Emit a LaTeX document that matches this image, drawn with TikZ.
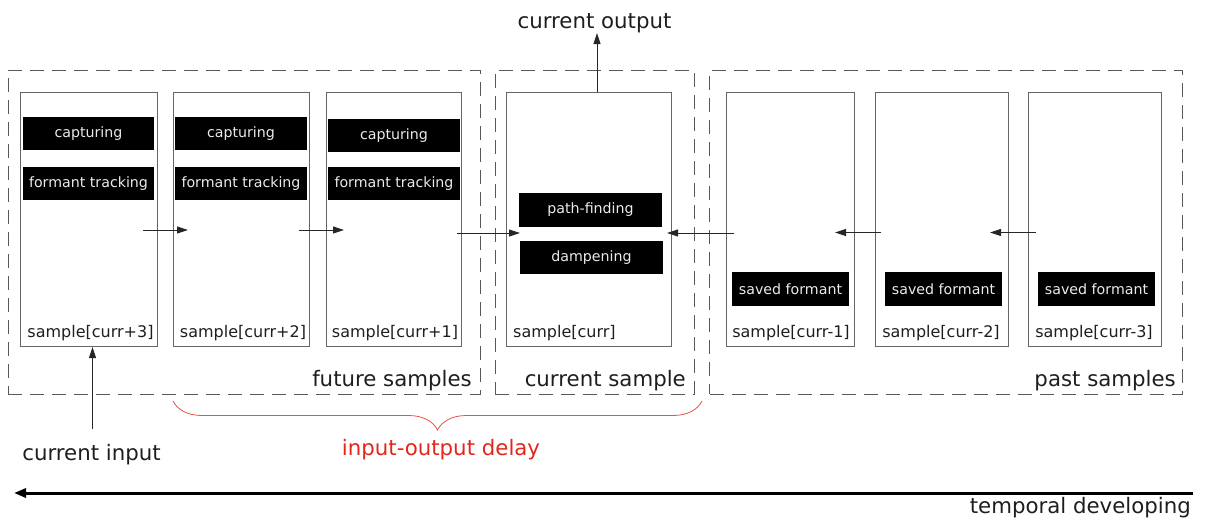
\documentclass[tikz,border=0pt]{standalone}
\usepackage{fontspec}
\setmainfont{DejaVu Sans}
\usetikzlibrary{arrows.meta,decorations.pathreplacing}
\definecolor{delayred}{RGB}{226,38,26}
\definecolor{inktext}{RGB}{30,30,30}

\begin{document}
\begin{tikzpicture}[x=1pt,y=-1pt,
  samplebox/.style={draw=black!60, line width=1pt, inner sep=0pt,
    minimum height=254pt},
  group/.style={draw=black!65, dash pattern=on 14pt off 8pt, line width=1pt,
    inner sep=0pt, minimum height=324pt},
  task/.style={fill=black, text=white!92!black, inner sep=0pt,
    font=\fontsize{14.2}{17}\selectfont, minimum height=33pt},
  smalllabel/.style={inner sep=0pt, text=inktext, font=\fontsize{16}{19}\selectfont},
  biglabel/.style={inner sep=0pt, text=inktext, font=\fontsize{21.3}{25}\selectfont},
  flow/.style={draw=black!85, line width=0.9pt, -{Triangle[length=11pt,width=7pt]}},
]
\useasboundingbox (0,0) rectangle (1207,517);

% dashed groups
\node[group, minimum width=472pt] (future) at (244,232) {};
\node[group, minimum width=199pt] (current) at (594.5,232) {};
\node[group, minimum width=473pt] (past) at (946,232) {};

% sample frames
\node[samplebox, minimum width=137pt] (s3) at (88.5,219) {};
\node[samplebox, minimum width=136pt] (s2) at (241,219) {};
\node[samplebox, minimum width=135pt] (s1) at (393.5,219) {};
\node[samplebox, minimum width=165pt] (s0) at (588.5,219) {};
\node[samplebox, minimum width=128pt] (m1) at (790,219) {};
\node[samplebox, minimum width=133pt] (m2) at (941.5,219) {};
\node[samplebox, minimum width=133pt] (m3) at (1094.5,219) {};

% processing stages
\node[task, minimum width=131pt] (cap3) at (88.5,133.5) {capturing};
\node[task, minimum width=131pt] (trk3) at (88.5,183.5) {formant tracking};
\node[task, minimum width=132pt] (cap2) at (241,133.5) {capturing};
\node[task, minimum width=132pt] (trk2) at (241,183.5) {formant tracking};
\node[task, minimum width=132pt] (cap1) at (394,135.5) {capturing};
\node[task, minimum width=132pt] (trk1) at (394,183.5) {formant tracking};
\node[task, minimum width=143pt, minimum height=34pt] (path) at (590.5,210) {path-finding};
\node[task, minimum width=143pt] (damp) at (591.5,257.5) {dampening};
\node[task, minimum width=117pt, minimum height=34pt] (sav1) at (790.5,289) {saved formant};
\node[task, minimum width=117pt, minimum height=34pt] (sav2) at (943.5,289) {saved formant};
\node[task, minimum width=117pt, minimum height=34pt] (sav3) at (1096.5,289) {saved formant};

% sample labels
\node[smalllabel] (l3) at (90.5,333) {sample[curr+3]};
\node[smalllabel] (l2) at (243,333) {sample[curr+2]};
\node[smalllabel] (l1) at (395,333) {sample[curr+1]};
\node[smalllabel, anchor=west] (l0) at (513,333) {sample[curr]};
\node[smalllabel] (lm1) at (791,333) {sample[curr-1]};
\node[smalllabel] (lm2) at (941,333) {sample[curr-2]};
\node[smalllabel] (lm3) at (1094,333) {sample[curr-3]};

% group titles
\node[biglabel, anchor=base east] (tfuture) at (472,386) {future samples};
\node[biglabel, anchor=base east] (tcurrent) at (686,386) {current sample};
\node[biglabel, anchor=base east] (tpast) at (1176,386) {past samples};

% data flow between samples
\coordinate (f1a) at (143,230);  \coordinate (f1b) at (188,230);
\coordinate (f2a) at (299,230);  \coordinate (f2b) at (344,230);
\coordinate (f3a) at (457,233);  \coordinate (f3b) at (520,233);
\coordinate (p1a) at (734,233);  \coordinate (p1b) at (667,233);
\coordinate (p2a) at (881,232.5); \coordinate (p2b) at (835,232.5);
\coordinate (p3a) at (1036,232.5); \coordinate (p3b) at (990,232.5);
\draw[flow] (f1a) -- (f1b);
\draw[flow] (f2a) -- (f2b);
\draw[flow] (f3a) -- (f3b);
\draw[flow] (p1a) -- (p1b);
\draw[flow] (p2a) -- (p2b);
\draw[flow] (p3a) -- (p3b);

% output and input
\node[biglabel, anchor=base] (out) at (594.5,28.5) {current output};
\coordinate (outfoot) at (597,92);
\coordinate (outtip) at (597,33);
\draw[flow] (outfoot) -- (outtip);

\node[biglabel, anchor=base] (in) at (91.5,460) {current input};
\coordinate (infoot) at (92.5,429);
\coordinate (intip) at (92.5,347);
\draw[flow] (infoot) -- (intip);

% delay brace
\coordinate (bl) at (173,401);
\coordinate (br) at (702,401);
\draw[delayred!80, line width=0.8pt, decorate,
  decoration={brace, mirror, amplitude=29pt}] (bl) -- (br);
\node[inner sep=0pt, text=delayred, font=\fontsize{21.3}{25}\selectfont, anchor=base]
  (delay) at (441,455) {input-output delay};

% time axis
\coordinate (tstart) at (1193,493);
\coordinate (tend) at (14,493);
\draw[black, line width=3pt, -{Triangle[length=12pt,width=9pt]}] (tstart) -- (tend);
\node[biglabel, anchor=base east] (time) at (1191,513) {temporal developing};
\end{tikzpicture}
\end{document}
